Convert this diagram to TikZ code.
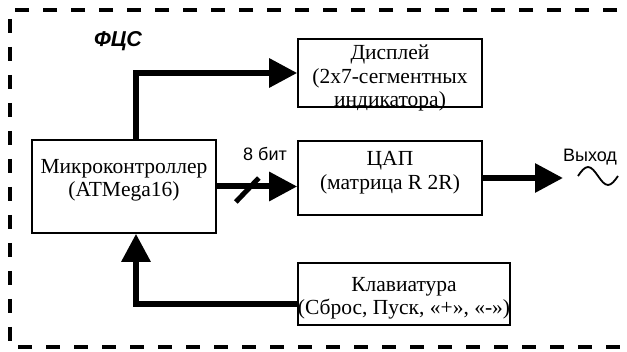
\documentclass[tikz,border=0pt]{standalone}
\usepackage{fontspec}
\setmainfont{Liberation Serif}
\setsansfont{Liberation Sans}
\usetikzlibrary{arrows.meta,calc}
\begin{document}
\begin{tikzpicture}[x=1pt,y=-1pt,
  box/.style={draw,line width=1.6pt,inner sep=0pt},
  btext/.style={align=center,inner sep=0pt,font=\fontsize{21.5}{23.5}\selectfont},
  stext/.style={inner sep=0pt,anchor=base,font=\sffamily\fontsize{18}{20}\selectfont},
  arr/.style={line width=6pt,-{Triangle[length=28pt,width=28pt]}},
  frame/.style={line width=4.5pt,dash pattern=on 14pt off 14pt}]
\useasboundingbox (0,0) rectangle (627,352);
% outer dashed frame
\coordinate (ftr) at (645,10);
\coordinate (ftl) at (10,10);
\coordinate (fbl) at (10,347);
\coordinate (fbr) at (645,347);
\draw[frame] (ftr) -- (ftl) -- (fbl) -- (fbr);
\node[inner sep=0pt,anchor=base,font=\sffamily\bfseries\itshape\fontsize{21.5}{24}\selectfont] (title) at (118,47) {ФЦС};
% boxes
\node[box,minimum width=184pt,minimum height=93pt] (micro) at (124,186.5) {};
\node[box,minimum width=184pt,minimum height=68pt] (disp) at (390,73) {};
\node[box,minimum width=184pt,minimum height=74pt] (dac) at (390,178) {};
\node[box,minimum width=212pt,minimum height=62pt] (kbd) at (404,294) {};
% box texts
\node[btext] (microt) at (124,180.5) {Микроконтроллер\\(ATMega16)};
\node[btext] (dispt) at (390,78) {Дисплей\\(2x7-сегментных\\индикатора)};
\node[btext] (dact) at (390,172.5) {ЦАП\\(матрица R 2R)};
\node[btext] (kbdt) at (404,298.5) {Клавиатура\\(Сброс, Пуск, «+», «-»)};
% connectors
\coordinate (busx) at (136,0);
\draw[arr] (micro.north -| busx) |- (disp.west);
\draw[arr] ([yshift=-10pt]kbd.west) -| (micro.south -| busx);
\draw[arr] (micro.east) -- (micro.east -| dac.west);
\draw[line width=5pt] ([shift={(19,15.5)}]micro.east) -- ([shift={(42,-8.5)}]micro.east);
\node[stext] (bits) at (265,161) {8 бит};
\coordinate (outtip) at (563,178);
\draw[arr] (dac.east) -- (outtip);
\node[stext] (outl) at (590,162) {Выход};
\coordinate (sw0) at (578,176);
\draw[line width=1.8pt] (sw0) sin ++(10,-9) cos ++(10,9) sin ++(10,9) cos ++(10,-9);
\end{tikzpicture}
\end{document}
